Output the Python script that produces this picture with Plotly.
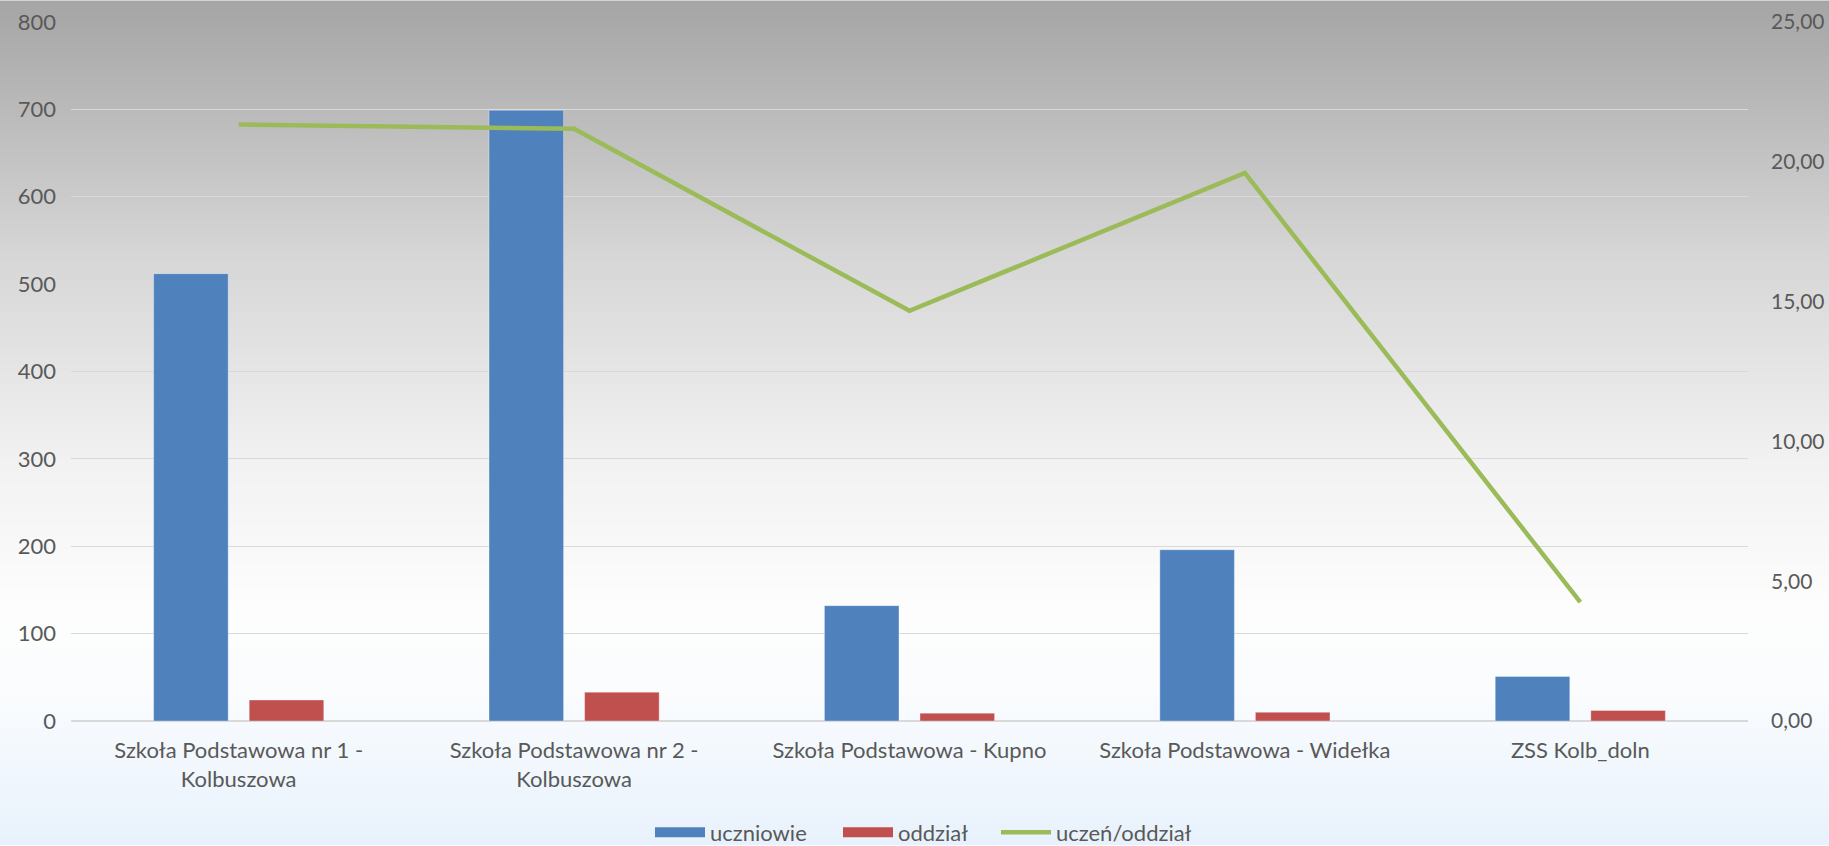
import base64, struct, zlib
import plotly.graph_objects as go

categories = [
    "Szkoła Podstawowa nr 1 -<br>Kolbuszowa",
    "Szkoła Podstawowa nr 2 -<br>Kolbuszowa",
    "Szkoła Podstawowa - Kupno",
    "Szkoła Podstawowa - Widełka",
    "ZSS Kolb_doln",
]
uczniowie = [512, 699, 132, 196, 51]
oddzial = [24, 33, 9, 10, 12]
uczen_na_oddzial = [21.33, 21.18, 14.67, 19.60, 4.25]

W, H = 1829, 846
L, R, T, B = 71, 81, 21.5, 124.5
plot_w = W - L - R
plot_h = H - T - B

# vertical gradient background as PNG data URI
stops = [(0.0, (165, 165, 165)), (0.30, (214, 214, 214)), (0.55, (242, 242, 242)),
         (0.72, (253, 253, 253)), (0.82, (250, 252, 254)), (1.0, (232, 242, 252))]
def col(t):
    for (t0, c0), (t1, c1) in zip(stops, stops[1:]):
        if t0 <= t <= t1:
            f = (t - t0) / (t1 - t0)
            return tuple(int(round(a + (b - a) * f)) for a, b in zip(c0, c1))
    return stops[-1][1]
raw = b"".join(b"\x00" + bytes(col(i / (H - 1))) * 2 for i in range(H))
def chunk(tag, data):
    return struct.pack(">I", len(data)) + tag + data + struct.pack(">I", zlib.crc32(tag + data) & 0xffffffff)
png = (b"\x89PNG\r\n\x1a\n" + chunk(b"IHDR", struct.pack(">IIBBBBB", 2, H, 8, 2, 0, 0, 0))
       + chunk(b"IDAT", zlib.compress(raw)) + chunk(b"IEND", b""))
uri = "data:image/png;base64," + base64.b64encode(png).decode()

FONT = "Lato, 'Open Sans', sans-serif"
TXT = "#595959"
FS = 22
BLUE, RED, GREEN = "#4f81bd", "#c0504d", "#9bbb59"

fig = go.Figure()
fig.add_trace(go.Bar(name="uczniowie", x=categories, y=uczniowie, showlegend=False,
                     marker=dict(color=BLUE, line=dict(color="rgba(255,255,255,0.35)", width=1))))
fig.add_trace(go.Bar(name="oddział", x=categories, y=oddzial, showlegend=False,
                     marker=dict(color=RED, line=dict(color="rgba(255,255,255,0.35)", width=1))))
# legend swatches (wide rectangles like the original legend)
fig.add_trace(go.Scatter(name="uczniowie", x=[None], y=[None], mode="lines", legend="legend",
                         line=dict(color=BLUE, width=12), hoverinfo="skip"))
fig.add_trace(go.Scatter(name="oddział", x=[None], y=[None], mode="lines", legend="legend2",
                         line=dict(color=RED, width=12), hoverinfo="skip"))
fig.add_trace(go.Scatter(name="uczeń/oddział", x=categories, y=uczen_na_oddzial, yaxis="y2",
                         legend="legend3", mode="lines", line=dict(color=GREEN, width=4.5)))

def leg(px):
    return dict(orientation="h", x=(px - L - 4) / plot_w, xanchor="left",
                y=(T + plot_h - 833) / plot_h, yanchor="middle",
                font=dict(size=FS, color=TXT), bgcolor="rgba(0,0,0,0)",
                itemwidth=50, itemclick=False, itemdoubleclick=False)

fig.update_layout(
    width=W, height=H,
    margin=dict(l=L, r=R, t=T, b=B, autoexpand=False),
    paper_bgcolor="white", plot_bgcolor="rgba(0,0,0,0)",
    separators=", ",
    font=dict(family=FONT, size=FS, color=TXT),
    barmode="group", bargap=0.43, bargroupgap=0.22,
    images=[dict(source=uri, xref="paper", yref="paper",
                 x=-L / plot_w, y=1 + T / plot_h, sizex=W / plot_w, sizey=H / plot_h,
                 xanchor="left", yanchor="top", sizing="stretch", layer="below")],
    xaxis=dict(showgrid=False, showline=False, ticks="", tickfont=dict(size=FS, color=TXT),
               zeroline=False, ticklabelstandoff=14),
    yaxis=dict(range=[0, 800], dtick=100, showgrid=True, gridcolor="#d9d9d9", gridwidth=1.3,
               zeroline=True, zerolinecolor="#d9d9d9", zerolinewidth=1.5,
               tickfont=dict(size=FS, color=TXT), ticklabelstandoff=14, showline=False),
    yaxis2=dict(range=[0, 25], dtick=5, overlaying="y", side="right", showgrid=False,
                zeroline=False, tickformat=".2f", tickfont=dict(size=21, color=TXT),
                ticklabelstandoff=22, showline=False),
    legend=leg(654),
    legend2=leg(842),
    legend3=leg(1000),
)
fig.write_html("out.html", config={"displayModeBar": False},
               post_script="document.body.style.margin='0';document.body.style.overflow='hidden';")
